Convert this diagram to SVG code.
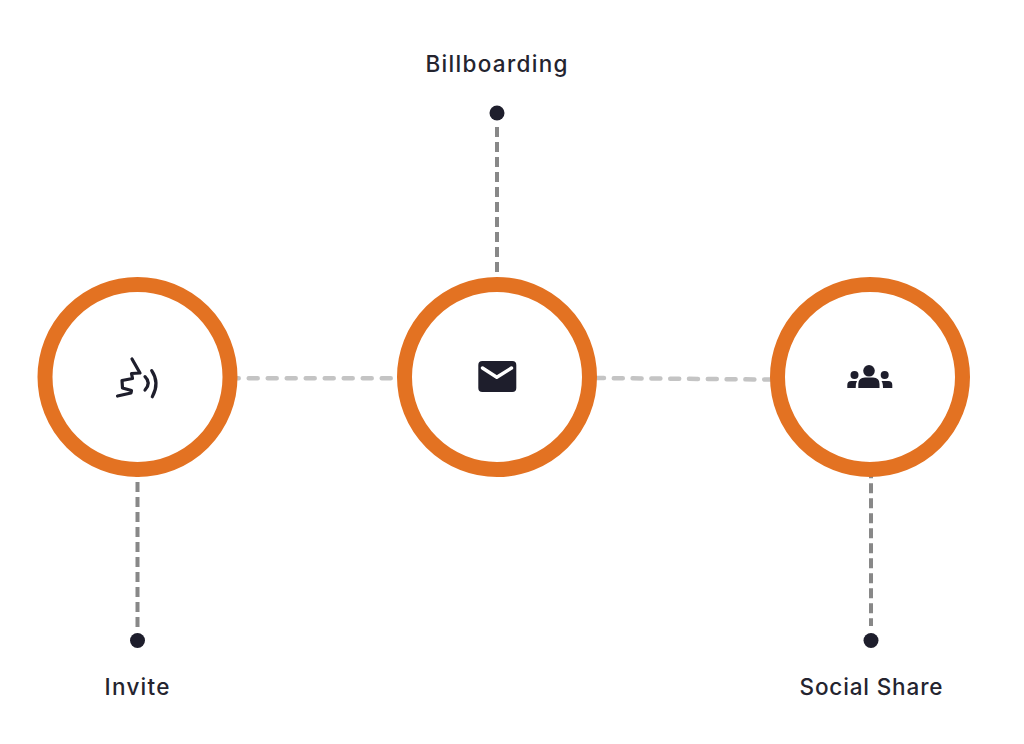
<svg xmlns="http://www.w3.org/2000/svg" width="1024" height="744" viewBox="0 0 1024 744">
<style>
.ring{fill:#fff;stroke:#e37222;stroke-width:15}
.h{fill:none;stroke:#c4c4c4;stroke-width:4.500;stroke-linecap:round}
.v{fill:none;stroke:#888;stroke-width:4;stroke-dasharray:10 5}
.dot,.solid{fill:#1e1e2c}
.line{fill:none;stroke:#1e1e2c;stroke-width:3.200;stroke-linecap:round;stroke-linejoin:round}
text{font-family:"Inter","Liberation Sans",sans-serif;font-size:22.500px;font-weight:500;fill:#24242f;text-anchor:middle}
</style>
<rect width="1024" height="744" fill="#fff"/>
<g id="connectors">
<path class="h" stroke-dasharray="9 10" d="M229.700 378.300H392"/>
<path class="h" stroke-dasharray="9 9.800" d="M595 378L772 379.600"/>
<path class="v" d="M497 127V273"/>
<path class="v" d="M137.500 467V627"/>
<path class="v" d="M871 468.300V626"/>
</g>
<g id="node-invite">
<circle class="ring" cx="137.500" cy="377" r="92.500"/>
<path class="line" d="M132 359L140 373L131.500 373.500L132.500 378.500L122 380.500L122.500 388L131.500 390.500L131 393L117.500 396"/>
<path class="line" d="M145 376.700Q151.500 383 145 390M151.700 370.700Q160 383 152.300 396.700"/>
</g>
<g id="node-billboarding">
<circle class="ring" cx="497" cy="377" r="92.500"/>
<rect class="solid" x="478.300" y="361" width="38" height="31" rx="4"/>
<path d="M482.500 368L496.800 377.300L511.500 368" fill="none" stroke="#fff" stroke-width="3.400" stroke-linecap="round" stroke-linejoin="round"/>
</g>
<g id="node-social">
<circle class="ring" cx="870" cy="377" r="92.500"/>
<circle class="solid" cx="869" cy="370.800" r="5.800"/>
<path class="solid" d="M858.300 388V384Q858.300 377.500 865 377.500H873Q879.500 377.500 879.500 384V388Z"/>
<circle class="solid" cx="854.500" cy="375" r="4"/>
<path class="solid" d="M847.300 388V385Q847.300 381 851.300 381H857Q855.700 383 855.700 388Z"/>
<circle class="solid" cx="884.700" cy="375" r="4"/>
<path class="solid" d="M892.300 388V385Q892.300 381 888.300 381H881.500Q883 383 883 388Z"/>
</g>
<g id="label-billboarding">
<circle class="dot" cx="497" cy="113" r="7.500"/>
<text x="496.500" y="71.500" textLength="142" lengthAdjust="spacing">Billboarding</text>
</g>
<g id="label-invite">
<circle class="dot" cx="137.500" cy="640.500" r="7.500"/>
<text x="137" y="695" textLength="65" lengthAdjust="spacing">Invite</text>
</g>
<g id="label-social">
<circle class="dot" cx="871" cy="640.500" r="7.500"/>
<text x="871" y="695" textLength="143" lengthAdjust="spacing">Social Share</text>
</g>
</svg>
